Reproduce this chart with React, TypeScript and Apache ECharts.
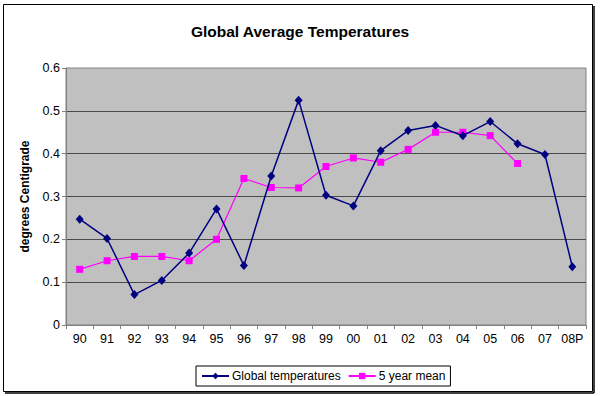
import React, { useEffect, useRef } from "react";
import * as echarts from "echarts";

const categories = ["90", "91", "92", "93", "94", "95", "96", "97", "98", "99", "00", "01", "02", "03", "04", "05", "06", "07", "08P"];
const globalTemps = [0.247, 0.202, 0.071, 0.104, 0.168, 0.271, 0.139, 0.348, 0.525, 0.303, 0.278, 0.407, 0.454, 0.466, 0.442, 0.475, 0.423, 0.398, 0.136];
const fiveYearMean = [0.13, 0.15, 0.16, 0.16, 0.15, 0.2, 0.342, 0.321, 0.32, 0.37, 0.39, 0.38, 0.41, 0.45, 0.45, 0.442, 0.377, null, null];
const yTicks = { min: 0, max: 0.6, interval: 0.1 };

const FONT = "'Liberation Sans', Arial, sans-serif";

export default function App() {
  const ref = useRef<HTMLDivElement>(null);
  useEffect(() => {
    document.body.style.margin = "0";
    const chart = echarts.init(ref.current!, null, { renderer: "svg" });
    chart.setOption({
      animation: false,
      backgroundColor: "#ffffff",
      textStyle: { fontFamily: FONT },
      title: {
        text: "Global Average Temperatures",
        left: "center",
        top: 18,
        textStyle: { fontFamily: FONT, fontSize: 15.5, fontWeight: "bold", color: "#000" },
      },
      legend: {
        left: 196,
        top: 366,
        width: 258,
        padding: [4, 5],
        borderColor: "#000",
        borderWidth: 1,
        itemWidth: 27,
        itemHeight: 8,
        itemGap: 7,
        textStyle: { fontFamily: FONT, fontSize: 12, color: "#000", padding: [0, 0, 0, -2] },
        data: ["Global temperatures", "5 year mean"],
      },
      grid: {
        left: 66,
        right: 14,
        top: 68,
        bottom: 71,
        show: true,
        backgroundColor: "#C0C0C0",
        borderColor: "#808080",
        borderWidth: 1,
      },
      xAxis: {
        type: "category",
        data: categories,
        boundaryGap: true,
        axisLine: { show: true, lineStyle: { color: "#808080" } },
        axisTick: { show: true, length: 4, interval: 0, lineStyle: { color: "#808080" } },
        axisLabel: { fontFamily: FONT, fontSize: 12.5, color: "#000", margin: 7, interval: 0 },
        splitLine: { show: false },
      },
      yAxis: {
        type: "value",
        min: yTicks.min,
        max: yTicks.max,
        interval: yTicks.interval,
        name: "degrees Centigrade",
        nameLocation: "middle",
        nameGap: 35,
        nameTextStyle: { fontFamily: FONT, fontSize: 12, fontWeight: "bold", color: "#000" },
        axisLine: { show: true, lineStyle: { color: "#808080" } },
        axisTick: { show: true, length: 4, lineStyle: { color: "#808080" } },
        axisLabel: { fontFamily: FONT, fontSize: 12.5, color: "#000", margin: 6 },
        splitLine: { show: true, showMinLine: false, showMaxLine: false, lineStyle: { color: "#4a4a4a", width: 1 } },
      },
      series: [
        {
          name: "Global temperatures",
          type: "line",
          data: globalTemps,
          symbol: "diamond",
          symbolSize: [8, 9],
          lineStyle: { color: "#000080", width: 1.5 },
          itemStyle: { color: "#000080" },
          z: 3,
        },
        {
          name: "5 year mean",
          type: "line",
          data: fiveYearMean,
          symbol: "rect",
          symbolSize: 7,
          connectNulls: false,
          lineStyle: { color: "#FF00FF", width: 1.2 },
          itemStyle: { color: "#FF00FF" },
          z: 2,
        },
      ],
      graphic: [
        {
          type: "rect",
          shape: { x: 3.5, y: 4.5, width: 589, height: 387 },
          style: { fill: "none", stroke: "#000", lineWidth: 1 },
          silent: true,
        },
        {
          type: "line",
          shape: { x1: 594, y1: 6, x2: 594, y2: 393 },
          style: { stroke: "#000", lineWidth: 1.5 },
          silent: true,
        },
        {
          type: "line",
          shape: { x1: 5, y1: 393, x2: 594, y2: 393 },
          style: { stroke: "#000", lineWidth: 1.5 },
          silent: true,
        },
      ],
    });
    return () => chart.dispose();
  }, []);
  return <div ref={ref} style={{ position: "fixed", left: 0, top: 0, width: 600, height: 396 }} />;
}
